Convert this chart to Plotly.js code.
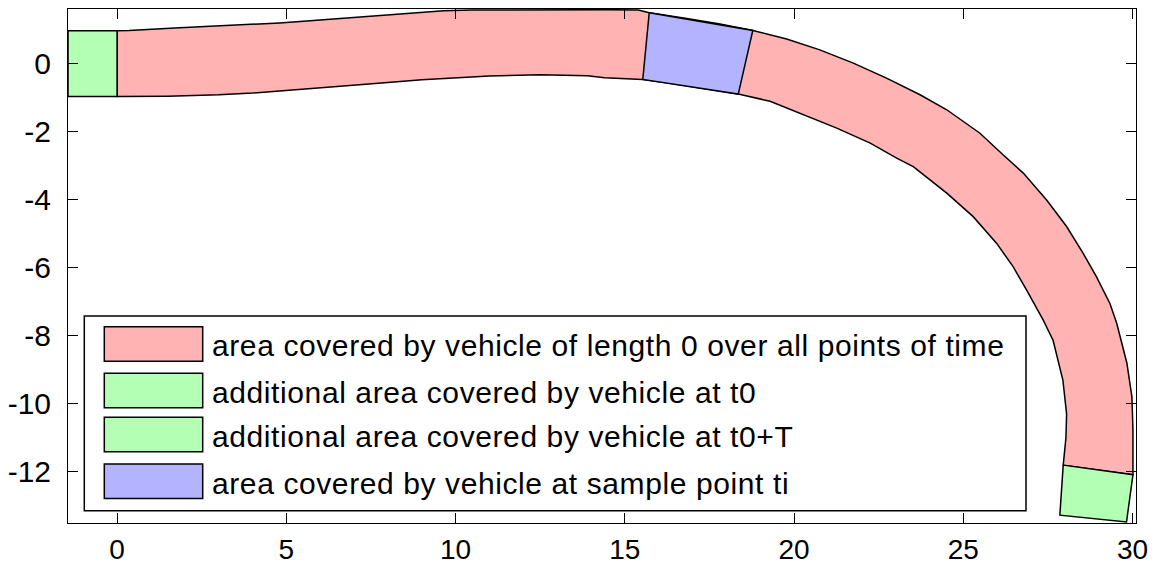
<!DOCTYPE html>
<html>
<head>
<meta charset="utf-8">
<script src="https://cdn.plot.ly/plotly-3.0.1.min.js"></script>
<style>
  html, body { margin: 0; padding: 0; background: #ffffff; }
  #chart { width: 1155px; height: 567px; }
  /* wider tracking for the legend entries */
  #chart .annotation-text { letter-spacing: 0.6px; }
</style>
</head>
<body>
<div id="chart"></div>
<script>
// Outer (left-hand) boundary of the swept lane, from start to end
const outerX = [0, 0.35, 1.7, 3.5, 4.8, 5.8, 6.8, 7.75, 8.7, 9.65, 10.5, 12.5, 14.5, 15.4, 15.72,
  16.83, 17.81, 18.78, 19.78, 20.76, 21.75, 22.73, 23.72, 24.51, 25.49, 26.18, 26.77,
  27.46, 28.05, 28.54, 28.93, 29.33, 29.53, 29.83, 29.98, 30.01, 30.01];
const outerY = [0.96, 0.97, 1.04, 1.12, 1.19, 1.26, 1.34, 1.41, 1.48, 1.55, 1.57, 1.58, 1.58, 1.57, 1.49,
  1.32, 1.16, 0.97, 0.72, 0.40, 0.01, -0.43, -0.92, -1.36, -2.05, -2.69, -3.22,
  -4.01, -4.79, -5.58, -6.26, -7.05, -7.63, -8.8, -9.8, -10.77, -12.08];

// Inner (right-hand) boundary of the swept lane, from start to end
const innerX = [0, 1.5, 3.0, 4.0, 5.0, 6.0, 7.0, 8.0, 9.0, 10.0, 11.0, 12.5, 13.9, 14.4, 15.2,
  15.53, 16.5, 17.4, 18.35, 19.29, 20.27, 21.26, 22.25, 23.03, 23.52, 24.51, 25.29, 25.98,
  26.47, 26.87, 27.36, 27.65, 27.94, 28.05, 28.03, 27.95];
const innerY = [-0.97, -0.96, -0.92, -0.87, -0.80, -0.72, -0.64, -0.56, -0.48, -0.42, -0.37, -0.33, -0.36, -0.42, -0.46,
  -0.47, -0.6, -0.74, -0.90, -1.11, -1.51, -1.90, -2.34, -2.78, -3.03, -3.81, -4.5, -5.28,
  -5.97, -6.66, -7.54, -8.13, -9.3, -10.3, -11.0, -11.8];

// Vehicle footprints (corner points)
const startBoxX = [-1.45, 0, 0, -1.45];
const startBoxY = [0.96, 0.96, -0.97, -0.97];
const endBoxX = [27.95, 30.01, 29.82, 27.85];
const endBoxY = [-11.8, -12.08, -13.47, -13.27];
const sampleBoxX = [15.72, 18.78, 18.35, 15.53];
const sampleBoxY = [1.49, 0.97, -0.90, -0.47];

const legendLabels = [
  'area covered by vehicle of length 0 over all points of time',
  'additional area covered by vehicle at t0',
  'additional area covered by vehicle at t0+T',
  'area covered by vehicle at sample point ti'
];

const xTicks = [0, 5, 10, 15, 20, 25, 30];
const yTicks = [-12, -10, -8, -6, -4, -2, 0];

const RED = 'rgb(255,179,179)';
const GREEN = 'rgb(179,255,179)';
const BLUE = 'rgb(179,179,255)';
const FONT = '"Liberation Sans", Arial, Helvetica, sans-serif';

function ring(a) { return a.concat([a[0]]); }

function patch(xs, ys, color, name) {
  return {
    type: 'scatter', mode: 'lines',
    x: ring(xs), y: ring(ys),
    fill: 'toself', fillcolor: color,
    line: { color: '#000000', width: 1.5 },
    name: name, showlegend: false, hoverinfo: 'skip'
  };
}

const laneX = outerX.concat(innerX.slice().reverse());
const laneY = outerY.concat(innerY.slice().reverse());

const traces = [
  patch(laneX, laneY, RED, legendLabels[0]),
  patch(startBoxX, startBoxY, GREEN, legendLabels[1]),
  patch(endBoxX, endBoxY, GREEN, legendLabels[2]),
  patch(sampleBoxX, sampleBoxY, BLUE, legendLabels[3])
];

// Plot area in pixels
const W = 1155, H = 567;
const M = { l: 68, r: 19, t: 9, b: 44 };
const PW = W - M.l - M.r, PH = H - M.t - M.b;
const px = v => (v - M.l) / PW;
const py = v => (H - M.b - v) / PH;

// Boxed legend drawn with shapes and annotations
const legendColors = [RED, GREEN, GREEN, BLUE];
const rowTop = [326.7, 373.3, 417.3, 464];
const swH = 34.5;
const shapes = [{
  type: 'rect', xref: 'paper', yref: 'paper',
  x0: px(84.3), x1: px(1026), y0: py(510.7), y1: py(316),
  line: { color: '#000000', width: 1.5 }, fillcolor: '#ffffff', layer: 'above'
}];
const annotations = [];
legendLabels.forEach((lab, i) => {
  shapes.push({
    type: 'rect', xref: 'paper', yref: 'paper',
    x0: px(104.3), x1: px(202.7), y0: py(rowTop[i] + swH), y1: py(rowTop[i]),
    line: { color: '#000000', width: 1.5 }, fillcolor: legendColors[i], layer: 'above'
  });
  annotations.push({
    xref: 'paper', yref: 'paper', x: px(210), y: py(rowTop[i] + swH / 2 + 2),
    xanchor: 'left', yanchor: 'middle', align: 'left', showarrow: false,
    text: lab, font: { family: FONT, size: 30, color: '#000000' }
  });
});

const axisCommon = {
  ticks: 'inside', ticklen: 10, tickwidth: 1, tickcolor: '#000000',
  showline: true, linecolor: '#000000', linewidth: 1, mirror: 'allticks',
  showgrid: false, zeroline: false
};

const layout = {
  width: W, height: H, margin: M,
  paper_bgcolor: '#ffffff', plot_bgcolor: '#ffffff',
  showlegend: false,
  xaxis: Object.assign({}, axisCommon, {
    range: [-1.45, 30.1], tickvals: xTicks, ticktext: xTicks.map(String),
    tickfont: { family: FONT, size: 28, color: '#000000' },
    ticklabelstandoff: 1
  }),
  yaxis: Object.assign({}, axisCommon, {
    range: [-13.5, 1.6], tickvals: yTicks, ticktext: yTicks.map(String),
    tickfont: { family: FONT, size: 30, color: '#000000' },
    ticklabelstandoff: 10
  }),
  shapes: shapes,
  annotations: annotations
};

Plotly.newPlot('chart', traces, layout, { displayModeBar: false, staticPlot: true });
</script>
</body>
</html>
